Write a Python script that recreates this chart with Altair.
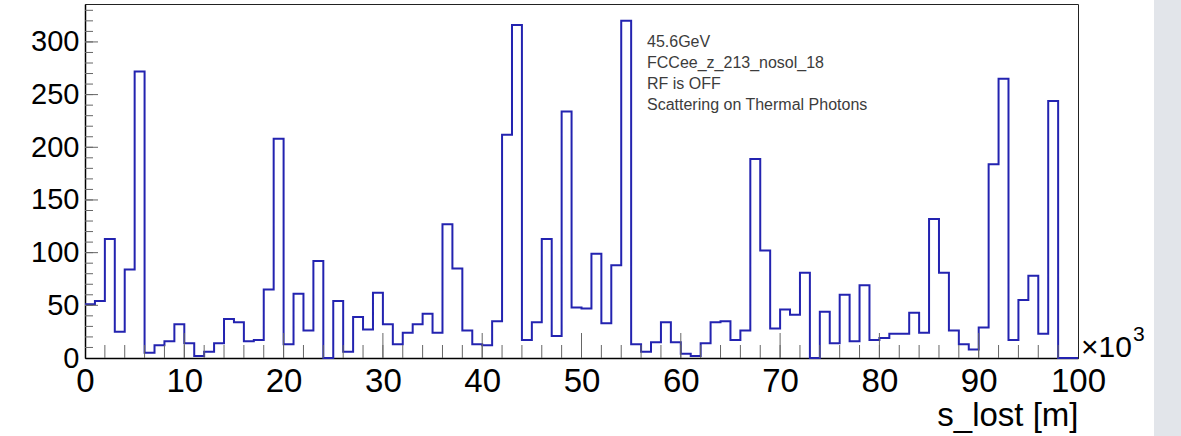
import altair as alt
import pandas as pd

# ---- data (entries per bin, 100 bins over 0..100 x10^3 m) ----
counts = [51, 54, 113, 25, 84, 272, 5, 12, 16, 32,
          14, 2, 6, 14, 37, 34, 16, 17, 65, 208,
          13, 61, 26, 92, 0, 54, 6, 39, 27, 62,
          32, 13, 24, 32, 42, 24, 127, 85, 26, 13,
          12, 35, 212, 316, 17, 34, 113, 21, 234, 48,
          47, 99, 33, 88, 320, 13, 6, 15, 34, 15,
          4, 2, 14, 34, 35, 17, 26, 189, 102, 28,
          46, 41, 81, 0, 44, 14, 60, 16, 69, 17,
          19, 23, 23, 43, 24, 132, 81, 26, 13, 8,
          29, 184, 265, 17, 55, 78, 23, 244, 0, 0]
x_min, x_max = 0, 100
y_max = 336
x_labels = [0, 10, 20, 30, 40, 50, 60, 70, 80, 90, 100]
y_labels = [0, 50, 100, 150, 200, 250, 300]
x_major_ticks = [10, 20, 30, 40, 50, 60, 70, 80, 90]
x_minor_ticks = [v for v in range(2, 100, 2)]
y_major_ticks = [50, 100, 150, 200, 250, 300]
y_minor_ticks = [v for v in range(10, 340, 10)]
annotation_lines = ["45.6GeV", "FCCee_z_213_nosol_18", "RF is OFF",
                    "Scattering on Thermal Photons"]
x_title = "s_lost [m]"

n_bins = len(counts)
bin_width = (x_max - x_min) / n_bins
hist = pd.DataFrame({
    "x": [x_min + i * bin_width for i in range(n_bins + 1)],
    "y": counts + [counts[-1]],
})

W, H = 993, 354
FONT = "Liberation Sans"
xscale = alt.Scale(domain=[x_min, x_max], nice=False, zero=False)
yscale = alt.Scale(domain=[0, y_max], nice=False)
x_axis = alt.Axis(
    values=x_labels, ticks=False, grid=False, labelFontSize=33,
    labelFont=FONT, labelColor="black", labelPadding=7,
    labelFlush=False, labelOverlap=False,
    domainColor="black", domainWidth=1.5,
    title=x_title, titleFont=FONT, titleFontSize=33,
    titleFontWeight="normal", titleColor="black",
    titleAlign="right", titleAnchor="end", titleX=W, titleY=67,
    titleBaseline="alphabetic")
y_axis = alt.Axis(
    values=y_labels, ticks=False, grid=False, labelFontSize=29,
    labelFont=FONT, labelColor="black", labelPadding=6,
    labelFlush=False, labelOverlap=False,
    domainColor="black", domainWidth=1.5, title=None)

def X(field="x:Q"):
    return alt.X(field, scale=xscale, axis=x_axis, title=x_title)

def Y(field="y:Q"):
    return alt.Y(field, scale=yscale, axis=y_axis, title=None)

line = alt.Chart(hist).mark_line(
    interpolate="step-after", color="#2323b0", strokeWidth=2
).encode(x=X(), y=Y())

def xticks(vals, length):
    return alt.Chart(pd.DataFrame({"x": vals})).mark_rule(
        color="#666666", strokeWidth=1
    ).encode(x=X(), y=alt.value(H), y2=alt.value(H - length))

def yticks(vals, length):
    return alt.Chart(pd.DataFrame({"y": vals})).mark_rule(
        color="#666666", strokeWidth=1
    ).encode(y=Y(), x=alt.value(0), x2=alt.value(length))

ticks = [xticks(x_minor_ticks, 13), xticks(x_major_ticks, 25),
         yticks(y_minor_ticks, 8), yticks(y_major_ticks, 13)]

exp_df = pd.DataFrame({"t": ["\u00d710"], "x": [x_max], "y": [0]})
exp_main = alt.Chart(exp_df).mark_text(
    align="left", baseline="alphabetic", fontSize=30, font=FONT,
    color="black", dx=3, dy=-1
).encode(x=X(), y=Y(), text="t:N")
sup_df = pd.DataFrame({"t": ["3"], "x": [x_max], "y": [0]})
exp_sup = alt.Chart(sup_df).mark_text(
    align="left", baseline="alphabetic", fontSize=21, font=FONT,
    color="black", dx=55, dy=-17
).encode(x=X(), y=Y(), text="t:N")

ann_df = pd.DataFrame({"t": annotation_lines,
                       "row": list(range(len(annotation_lines)))})
ann = alt.Chart(ann_df).mark_text(
    align="left", baseline="alphabetic", fontSize=16, font=FONT,
    color="#3c3c3c"
).transform_calculate(
    py="42.5 + datum.row * 21.1"
).encode(x=alt.value(562), y=alt.Y("py:Q", scale=None, axis=None),
         text="t:N")

strip = alt.Chart(pd.DataFrame({"a": [0]})).mark_rect(
    color="#e2e5ea"
).encode(x=alt.value(1069), x2=alt.value(1096),
         y=alt.value(-4), y2=alt.value(432))

chart = alt.layer(line, strip, *ticks, exp_main, exp_sup, ann).properties(
    width=W, height=H,
    padding={"left": 85, "top": 4, "right": 103, "bottom": 78},
    autosize="none", background="white",
).configure_view(stroke="#222222", strokeWidth=1)

chart.save("out.html", embed_options={"renderer": "svg", "actions": False})
